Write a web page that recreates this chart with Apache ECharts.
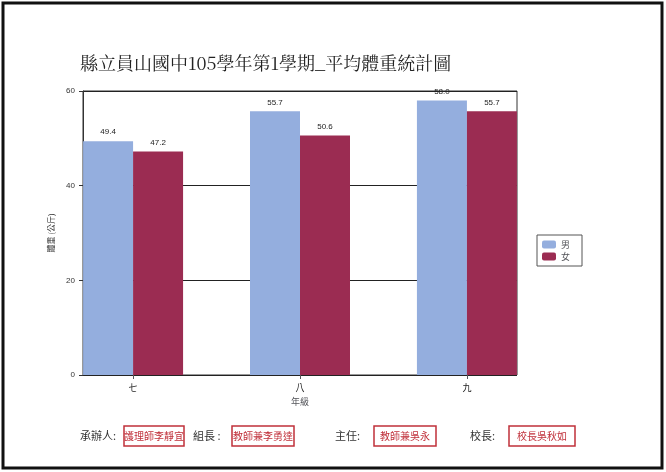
<!DOCTYPE html><html><head><meta charset="utf-8"><script src="https://cdn.jsdelivr.net/npm/echarts@6/dist/echarts.min.js"></script>
<style>html,body{margin:0;background:#fff}#c{width:666px;height:472px}</style></head><body><div id="c"></div><script>
const categories=['七','八','九'];
const male=[49.4,55.7,58.0];
const female=[47.2,50.6,55.7];
const yTicks=[0,20,40,60];
const chart=echarts.init(document.getElementById('c'));
const F='"Noto Sans CJK TC",sans-serif';
const pos=categories.map((c,i)=>i);
function stamp(x,label,w){return [
 {type:'rect',shape:{x:x,y:426,width:w,height:20},style:{fill:'none',stroke:'#c0303a',lineWidth:1.5}},
 {type:'text',x:x+w/2,y:436,style:{text:label,fill:'#c0303a',font:'10px '+F,align:'center',verticalAlign:'middle'}}];}
chart.setOption({
 animation:false,
 title:{text:'縣立員山國中105學年第1學期_平均體重統計圖',left:75,top:49,textStyle:{fontFamily:'"Noto Serif CJK TC","Noto Sans CJK TC",serif',fontSize:18,fontWeight:'normal',color:'#222'}},
 legend:{data:['男','女'],left:537,top:235,orient:'vertical',itemWidth:14,itemHeight:8,itemGap:3,borderColor:'#555',borderWidth:1,padding:[5,12,5,5],textStyle:{fontSize:9,fontFamily:F}},
 grid:[{left:83,right:149,top:91,bottom:97,show:true,borderColor:'#333',borderWidth:1},
       {left:49.5,width:501,top:91,bottom:97,show:false}],
 xAxis:[{type:'value',gridIndex:0,min:-0.3,max:2.3,show:false,splitLine:{show:false}},
        {type:'category',gridIndex:1,data:categories,position:'bottom',axisLine:{show:false},splitLine:{show:false},axisTick:{show:true,alignWithLabel:true,length:4},axisLabel:{fontSize:9,color:'#222',fontFamily:F},name:'年級',nameLocation:'middle',nameGap:18,nameTextStyle:{fontSize:9,fontFamily:F}}],
 yAxis:[{type:'value',gridIndex:0,min:0,max:60,interval:20,axisLine:{show:true,onZero:false,lineStyle:{color:'#333'}},axisTick:{show:true,length:4},axisLabel:{fontSize:8,color:'#333'},splitLine:{lineStyle:{color:'#222'}},name:'體重 (公斤)',nameLocation:'middle',nameGap:28,nameTextStyle:{fontSize:8,fontFamily:F}},
        {type:'value',gridIndex:1,show:false,axisLine:{show:false},splitLine:{show:false}}],
 series:[
  {name:'男',type:'bar',xAxisIndex:0,yAxisIndex:0,barWidth:50,barGap:'0%',data:pos.map(i=>[i,male[i]]),itemStyle:{color:'#94aede'},label:{show:true,position:'top',fontSize:8,color:'#222',formatter:p=>p.value[1].toFixed(1)}},
  {name:'女',type:'bar',xAxisIndex:0,yAxisIndex:0,barWidth:50,barGap:'0%',data:pos.map(i=>[i,female[i]]),itemStyle:{color:'#9b2c52'},label:{show:true,position:'top',fontSize:8,color:'#222',formatter:p=>p.value[1].toFixed(1)}}
 ],
 graphic:[
  {type:'rect',shape:{x:3,y:3,width:659,height:465},style:{fill:'none',stroke:'#111',lineWidth:3}},
  {type:'text',x:80,y:436,style:{text:'承辦人:',font:'11px '+F,fill:'#333',verticalAlign:'middle'}},
  ...stamp(124,'護理師李靜宜',60),
  {type:'text',x:193,y:436,style:{text:'組長 :',font:'11px '+F,fill:'#333',verticalAlign:'middle'}},
  ...stamp(232,'教師兼李勇達',62),
  {type:'text',x:335,y:436,style:{text:'主任:',font:'11px '+F,fill:'#333',verticalAlign:'middle'}},
  ...stamp(374,'教師兼吳永',62),
  {type:'text',x:470,y:436,style:{text:'校長:',font:'11px '+F,fill:'#333',verticalAlign:'middle'}},
  ...stamp(509,'校長吳秋如',66)
 ]
});
</script></body></html>
